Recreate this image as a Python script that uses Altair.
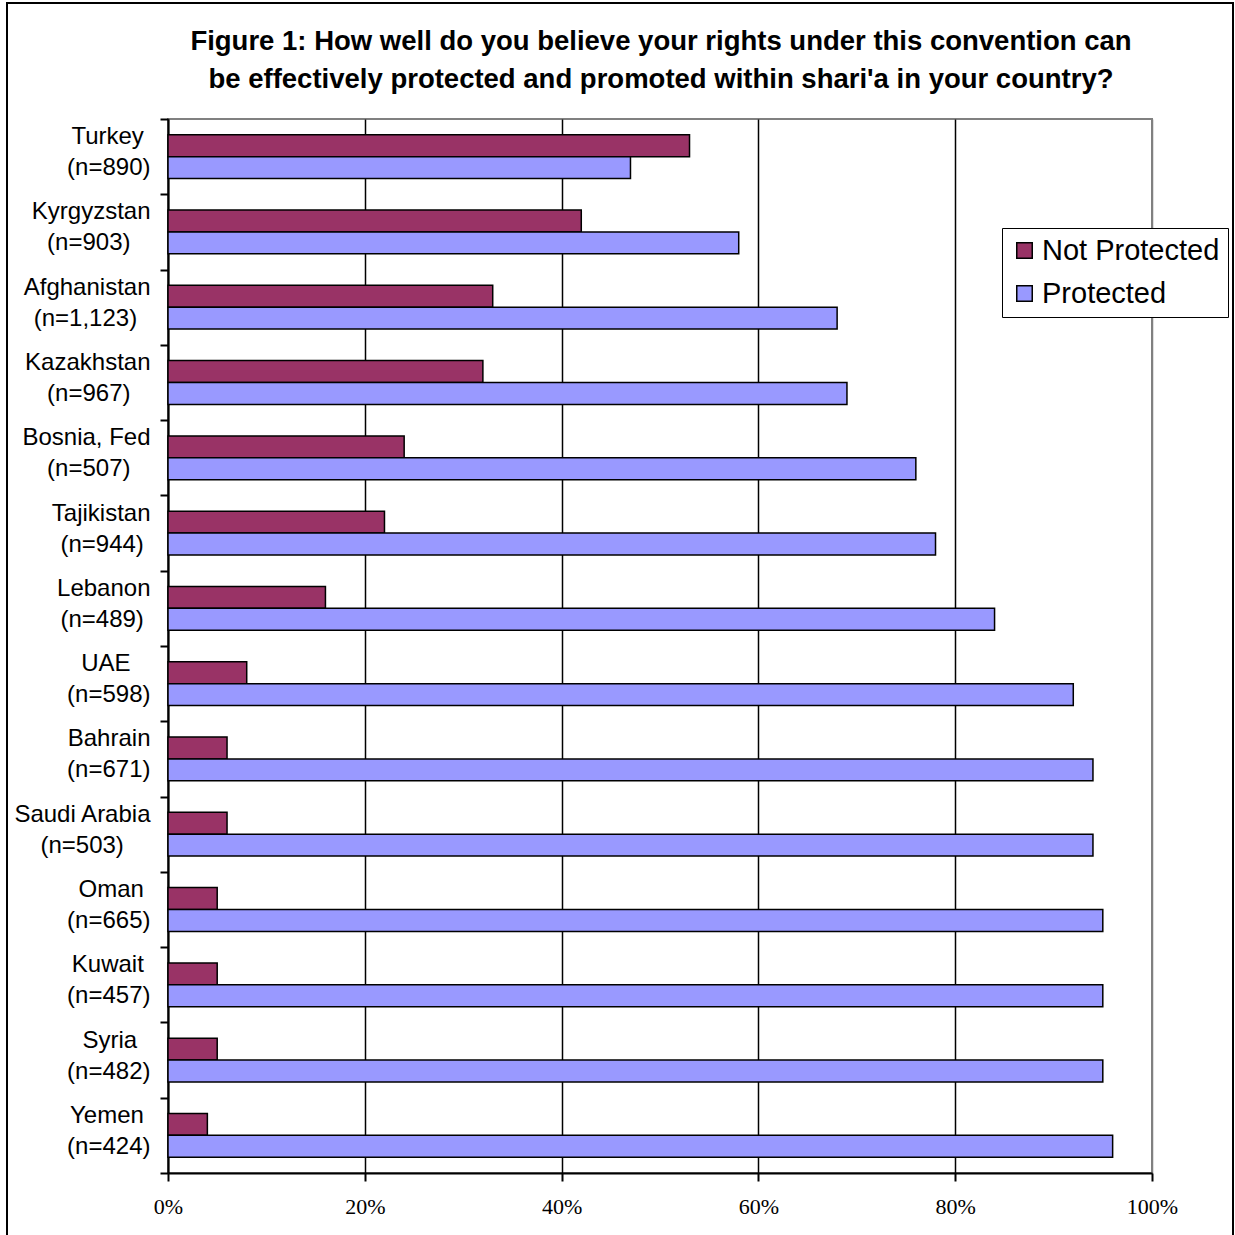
import altair as alt
import pandas as pd

# Survey results by country (percent of respondents)
countries = ["Turkey", "Kyrgyzstan", "Afghanistan", "Kazakhstan", "Bosnia, Fed",
             "Tajikistan", "Lebanon", "UAE", "Bahrain", "Saudi Arabia", "Oman",
             "Kuwait", "Syria", "Yemen"]
sample_sizes = ["890", "903", "1,123", "967", "507", "944", "489", "598", "671",
                "503", "665", "457", "482", "424"]
not_protected = [53, 42, 33, 32, 24, 22, 16, 8, 6, 6, 5, 5, 5, 4]
protected = [47, 58, 68, 69, 76, 78, 84, 92, 94, 94, 95, 95, 95, 96]

series = ["Not Protected", "Protected"]
colors = ["#993366", "#9999FF"]
x_ticks = [0, 20, 40, 60, 80, 100]

title_lines = [
    "Figure 1: How well do you believe your rights under this convention can",
    "be effectively protected and promoted within shari'a in your country?",
]

# Approximate Helvetica/Arial advance widths (1/1000 em) used to centre the
# two lines of each category label inside a right-aligned block.
HELV = {' ': 278, '(': 333, ')': 333, ',': 278, '=': 584, 'A': 667, 'B': 667,
        'F': 611, 'K': 667, 'L': 556, 'O': 778, 'S': 667, 'T': 611, 'U': 722,
        'E': 667, 'Y': 667, 'a': 556, 'b': 556, 'c': 500, 'd': 556, 'e': 556,
        'f': 278, 'g': 556, 'h': 556, 'i': 222, 'j': 222, 'k': 500, 'l': 222,
        'm': 833, 'n': 556, 'o': 556, 'r': 333, 's': 500, 't': 278, 'u': 556,
        'v': 500, 'w': 722, 'y': 500, 'z': 500}
for d in "0123456789":
    HELV[d] = 556


def text_width(s):
    return sum(HELV.get(ch, 556) for ch in s)


def make_label(country, n):
    lines = [country, f"(n={n})"]
    widest = max(text_width(s) for s in lines)
    padded = []
    for s in lines:
        k = round((widest - text_width(s)) / 2 / 278)
        # non-breaking spaces closed by a zero-width space so they are kept
        padded.append(s + ("\u00a0" * k + "\u200b" if k else ""))
    return "|".join(padded)


labels = [make_label(c, n) for c, n in zip(countries, sample_sizes)]

rows = []
for lab, a, b in zip(labels, not_protected, protected):
    rows.append({"label": lab, "series": series[0], "value": a})
    rows.append({"label": lab, "series": series[1], "value": b})
df = pd.DataFrame(rows)

bars = alt.Chart(df).mark_bar(stroke="black", strokeWidth=1.5).encode(
    x=alt.X(
        "value:Q",
        scale=alt.Scale(domain=[0, 100], nice=False),
        axis=alt.Axis(
            values=x_ticks, labelExpr="datum.value + '%'", title=None,
            grid=True, gridWidth=1.5,
            gridColor={"condition": {"test": "datum.value >= 100", "value": "#808080"},
                       "value": "black"},
            domainColor="black", domainWidth=2, tickColor="black", tickWidth=2,
            tickSize=8, labelFont="Liberation Serif", labelFontSize=22,
            labelColor="black", labelPadding=15, labelFlush=False,
        ),
    ),
    y=alt.Y(
        "label:N", sort=labels,
        scale=alt.Scale(paddingInner=0, paddingOuter=0),
        axis=alt.Axis(
            title=None, tickBand="extent", labelExpr="split(datum.label, '|')",
            labelFont="Liberation Sans", labelFontSize=24, labelLineHeight=31,
            labelColor="black", labelAlign="right", labelBaseline="middle",
            labelPadding=10, labelOffset=-20, domainColor="black", domainWidth=2,
            tickColor="black", tickWidth=2, tickSize=8, grid=False,
            labelLimit=300,
        ),
    ),
    yOffset=alt.YOffset(
        "series:N", sort=series,
        scale=alt.Scale(paddingInner=0, paddingOuter=0.72),
    ),
    color=alt.Color(
        "series:N", sort=series,
        scale=alt.Scale(domain=series, range=colors),
        legend=alt.Legend(
            title=None, orient="none", legendX=834, legendY=109,
            strokeColor="black", fillColor="white", padding=8,
            labelFont="Liberation Sans", labelFontSize=29, labelColor="black",
            labelLimit=400, symbolType="square", symbolSize=240,
            symbolStrokeColor="black", symbolStrokeWidth=1.5, rowPadding=13,
            labelOffset=3,
        ),
    ),
)

# Two-line heading above the plot
heading = alt.Chart(pd.DataFrame({"h": [0]})).mark_text(
    text=title_lines, align="center", baseline="top", font="Liberation Sans",
    fontSize=27.5, fontWeight="bold", color="black", lineHeight=38,
).encode(x=alt.value(493), y=alt.value(-91))

# Outer chart frame
frame = alt.Chart(pd.DataFrame({"f": [0]})).mark_rect(
    fill="transparent", stroke="black", strokeWidth=2
).encode(
    x=alt.value(-161), x2=alt.value(1065), y=alt.value(-116), y2=alt.value(1140)
)

chart = alt.layer(bars, heading, frame).properties(
    width=984,
    height=1054,
    padding={"left": 168, "top": 119, "right": 83, "bottom": 62},
    autosize=alt.AutoSizeParams(type="none"),
    background="white",
).configure_view(stroke="#808080", strokeWidth=2)

chart.save("out.html", embed_options={"renderer": "svg", "actions": False})
